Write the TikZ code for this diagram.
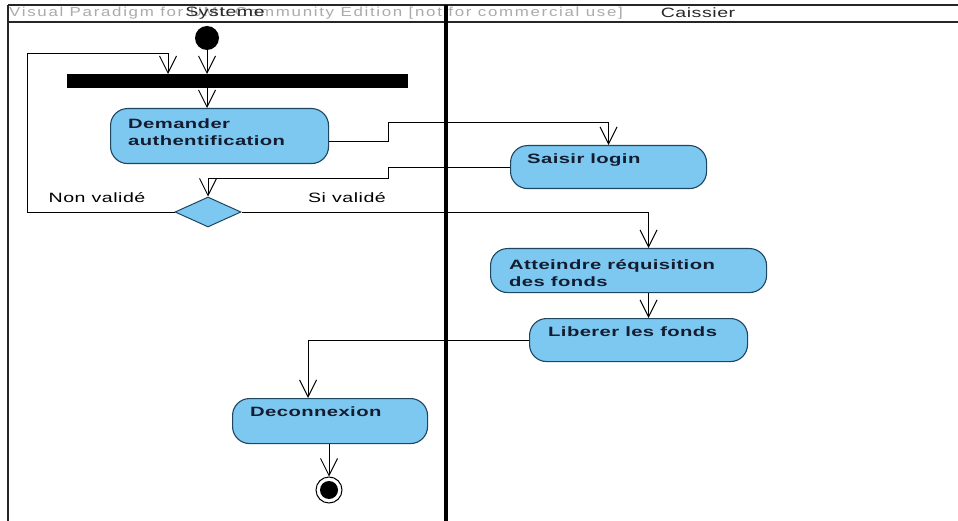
\documentclass[tikz,border=0pt]{standalone}
\usepackage{fontspec}
\setmainfont{Liberation Sans}
\usetikzlibrary{arrows.meta,shapes.geometric,calc}
\definecolor{actfill}{HTML}{7CC8F0}
\definecolor{actline}{HTML}{1E4660}
\definecolor{acttext}{HTML}{141C30}
\definecolor{wmark}{HTML}{ABABAB}
\definecolor{lanetext}{HTML}{282828}

\begin{document}
\begin{tikzpicture}[x=1pt,y=-1pt,
  act/.style={draw=actline, fill=actfill, line width=1.1pt, rounded corners=17pt,
              anchor=north west, inner sep=0pt},
  acttxt/.style={anchor=north west, inner sep=0pt, align=left, text=acttext,
                 font=\bfseries\fontsize{13.5}{17}\selectfont\addfontfeature{FakeStretch=1.5,LetterSpace=3}},
  flow/.style={line width=0.9pt, -{Straight Barb[length=17pt,width=17pt,line width=1pt]}},
  lane/.style={line width=2pt, draw=black!85},
  guard/.style={font=\fontsize{13.5}{16}\selectfont\addfontfeature{FakeStretch=1.45,LetterSpace=4},
                inner sep=0pt, anchor=base},
  lanetitle/.style={font=\fontsize{13.5}{16}\selectfont\addfontfeature{FakeStretch=1.45,LetterSpace=4},
                    text=lanetext, inner sep=0pt}
]
\useasboundingbox (0,0) rectangle (958,521);
\fill[white] (0,0) rectangle (958,521);

% swimlane frame
\draw[lane] (8,5) -- (958,5);
\draw[lane] (8,22) -- (958,22);
\draw[lane] (8,5) -- (8,521);
\draw[line width=3.2pt] (446,5) -- (446,521);

% header texts
\node[anchor=west, inner sep=0pt, text=wmark,
      font=\fontsize{13}{15}\selectfont\addfontfeature{FakeStretch=1.3,LetterSpace=13}] (wm) at (9,13)
  {Visual Paradigm for UML Community Edition [not for commercial use]};
\node[lanetitle] (sys) at (225,13) {Systeme};
\node[lanetitle] (cai) at (698,13) {Caissier};

% activity nodes
\node[circle, fill=black, minimum size=24pt, inner sep=0pt] (start) at (207,38) {};
\node[fill=black, minimum width=341pt, minimum height=14pt, inner sep=0pt,
      anchor=north west] (fork) at (67,74) {};

\node[act, minimum width=218pt, minimum height=55pt] (dem) at (110,108) {};
\node[acttxt] (demt) at ($(dem.north west)+(18,11)$) {Demander\\authentification};

\node[act, minimum width=196pt, minimum height=43pt] (sai) at (510,145) {};
\node[acttxt] (sait) at ($(sai.north west)+(17,9)$) {Saisir login};

\node[diamond, draw=actline, fill=actfill, line width=1pt, minimum width=66pt,
      minimum height=30pt, inner sep=0pt, aspect=2.2] (dia) at (208,212) {};

\node[act, minimum width=276pt, minimum height=44pt] (att) at (490,248) {};
\node[acttxt] (attt) at ($(att.north west)+(19,11)$) {Atteindre réquisition\\des fonds};

\node[act, minimum width=218pt, minimum height=43pt] (lib) at (529,318) {};
\node[acttxt] (libt) at ($(lib.north west)+(19,9)$) {Liberer les fonds};

\node[act, minimum width=195pt, minimum height=45pt] (dec) at (232,398) {};
\node[acttxt] (dect) at ($(dec.north west)+(18,9)$) {Deconnexion};

\node[circle, draw=black, line width=1pt, minimum size=26pt, inner sep=0pt] (end) at (329,490) {};
\node[circle, fill=black, minimum size=18pt, inner sep=0pt] (endin) at (end.center) {};

% guards
\node[guard] (nv) at (97,203) {Non validé};
\node[guard] (sv) at (347,203) {Si validé};

% control flows
\coordinate (lp1) at (27,53);
\coordinate (lp2) at (168,53);
\coordinate (b1) at (388,122);
\coordinate (b2) at (388,178);

\draw[flow] (start.south) -- (start.south |- fork.north);
\draw[flow] (dia.west) -| (lp1) -- (lp2) -- (lp2 |- fork.north);
\draw[flow] (fork.south -| start) -- (dem.north -| start);
\draw[flow] ($(dem.east)+(0,5)$) -| (b1) -| (sai.north);
\draw[flow] (sai.west) -| (b2) -| (dia.north);
\draw[flow] (dia.east) -| ([xshift=20pt]att.north);
\draw[flow] ([xshift=20pt]att.south) -- ([xshift=20pt]att.south |- lib.north);
\draw[flow] (lib.west) -| ([xshift=-22pt]dec.north);
\draw[flow] (dec.south -| end) -- (end.north);
\end{tikzpicture}
\end{document}
